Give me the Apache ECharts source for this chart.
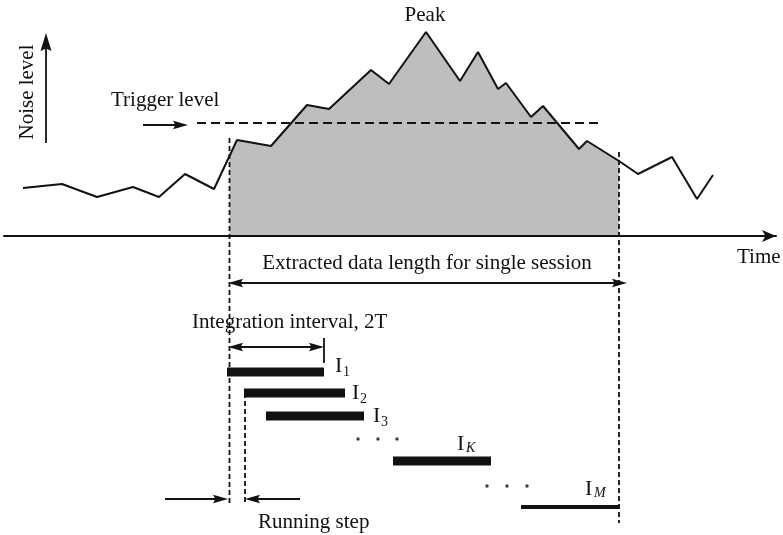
<!DOCTYPE html>
<html>
<head>
<meta charset="utf-8">
<script src="https://cdn.jsdelivr.net/npm/echarts@6/dist/echarts.min.js"></script>
<style>
  html, body { margin: 0; padding: 0; background: #ffffff; }
  #chart { width: 783px; height: 535px; }
</style>
</head>
<body>
<div id="chart"></div>
<script>
// Noise record: time position and level above the time axis
const noiseTime  = [23, 62, 97, 133, 159, 185, 214, 237, 271, 307, 329, 371, 389, 426, 460, 478, 498, 506, 531, 543, 579, 587, 619, 638, 672, 697, 713];
const noiseLevel = [48, 52, 39, 49, 39, 62, 47, 96, 90, 131, 127, 166, 152, 204, 155, 184, 147, 153, 119, 130, 87, 95, 75, 62, 79, 37, 61];

// Trigger threshold and the extracted session window
const triggerLevel = 113;
const triggerSpan = [197, 603];
const sessionStart = 229.5;
const sessionEnd = 619;

// Integration intervals I_1 ... I_M (start, end, row)
const intervalNames = ['1', '2', '3', 'K', 'M'];
const intervalStart = [227, 244, 266, 393, 521];
const intervalEnd   = [324, 345, 364, 491, 620];
const intervalRow   = [-136, -157, -180, -225, -271];

// Ellipsis dots between interval rows
const dotTime  = [358, 378, 397, 487, 507, 527];
const dotLevel = [-203, -203, -203, -250, -250, -250];

// Annotation segments [t1, level1, t2, level2]
const singleArrows = [[46, 93, 46, 203], [143, 111, 188, 111], [165, -263, 228, -263], [300, -263, 245, -263]];
const doubleArrows = [[228, -47, 627, -47], [228, -111, 324, -111]];
const tickMarks    = [[324, -102, 324, -127]];
const guideLines   = [[sessionStart, 98, sessionStart, -269], [sessionEnd, 84, sessionEnd, -287], [245, -157, 245, -269]];

const INK = '#111111';
const SHADE = '#bebebe';
const FONT_FAMILY = '"Liberation Serif", "Times New Roman", serif';

// Points of the noise curve restricted to the session window, with interpolated edges
function levelAt(t) {
  for (let i = 0; i < noiseTime.length - 1; i++) {
    if (t >= noiseTime[i] && t <= noiseTime[i + 1]) {
      const f = (t - noiseTime[i]) / (noiseTime[i + 1] - noiseTime[i]);
      return noiseLevel[i] + f * (noiseLevel[i + 1] - noiseLevel[i]);
    }
  }
  return 0;
}
function sessionPoints() {
  const pts = [[sessionStart, levelAt(sessionStart)]];
  noiseTime.forEach((t, i) => {
    if (t > sessionStart && t < sessionEnd) pts.push([t, noiseLevel[i]]);
  });
  pts.push([sessionEnd, levelAt(sessionEnd)]);
  return pts;
}

// Filled arrowhead with a small notch
function arrowHead(tip, from, L, W) {
  const dx = tip[0] - from[0], dy = tip[1] - from[1];
  const len = Math.hypot(dx, dy) || 1;
  const ux = dx / len, uy = dy / len;
  const N = 2.5;
  const bx = tip[0] - ux * L, by = tip[1] - uy * L;
  return {
    type: 'polygon',
    shape: { points: [
      [tip[0], tip[1]],
      [bx - uy * W, by + ux * W],
      [tip[0] - ux * (L - N), tip[1] - uy * (L - N)],
      [bx + uy * W, by - ux * W]
    ] },
    style: { fill: INK }
  };
}

function segmentSeries(name, data, heads, lineStyle) {
  return {
    name: name,
    type: 'custom',
    data: data,
    encode: { x: [0, 2], y: [1, 3] },
    silent: true,
    z: 6,
    renderItem: function (params, api) {
      const a = api.coord([api.value(0), api.value(1)]);
      const b = api.coord([api.value(2), api.value(3)]);
      const vertical = Math.abs(a[0] - b[0]) < 0.5;
      const L = vertical && heads !== 'none' ? 18 : 15;
      const W = vertical && heads !== 'none' ? 5.5 : 4.2;
      const dx = b[0] - a[0], dy = b[1] - a[1];
      const len = Math.hypot(dx, dy) || 1;
      const ux = dx / len, uy = dy / len;
      let p1 = a.slice(), p2 = b.slice();
      const children = [];
      if (heads === 'end' || heads === 'both') {
        p2 = [b[0] - ux * (L - 3), b[1] - uy * (L - 3)];
        children.push(arrowHead(b, a, L, W));
      }
      if (heads === 'both') {
        p1 = [a[0] + ux * (L - 3), a[1] + uy * (L - 3)];
        children.push(arrowHead(a, b, L, W));
      }
      children.unshift({
        type: 'line',
        shape: { x1: p1[0], y1: p1[1], x2: p2[0], y2: p2[1] },
        style: Object.assign({ stroke: INK, lineWidth: 1.8 }, lineStyle || {})
      });
      return { type: 'group', children: children };
    }
  };
}

// Label placement next to each interval bar
const barLabelLayout = [
  { dx: 11, dy: -6, sub: 6 },
  { dx: 7, dy: 0, sub: 6 },
  { dx: 9, dy: 0, sub: 6 },
  { dx: -34, dy: -17, sub: 4 },
  { dx: -35, dy: -18, sub: 4 }
];

const chart = echarts.init(document.getElementById('chart'), null, { renderer: 'canvas' });

const option = {
  animation: false,
  backgroundColor: '#ffffff',
  grid: { left: 4, right: 7, top: 0, bottom: 0 },
  xAxis: {
    type: 'value',
    min: 4,
    max: 776,
    z: 5,
    axisLine: {
      onZero: true,
      symbol: ['none', 'arrow'],
      symbolSize: [9, 14],
      lineStyle: { color: INK, width: 2 }
    },
    axisTick: { show: false },
    axisLabel: { show: false },
    splitLine: { show: false }
  },
  yAxis: {
    type: 'value',
    min: -299,
    max: 236,
    axisLine: { show: false },
    axisTick: { show: false },
    axisLabel: { show: false },
    splitLine: { show: false }
  },
  series: [
    {
      name: 'session',
      type: 'line',
      data: sessionPoints(),
      symbol: 'none',
      silent: true,
      z: 2,
      lineStyle: { width: 0, opacity: 0 },
      areaStyle: { color: SHADE, opacity: 1, origin: 0 }
    },
    {
      name: 'noise',
      type: 'line',
      data: noiseTime.map((t, i) => [t, noiseLevel[i]]),
      symbol: 'none',
      silent: true,
      z: 4,
      lineStyle: { color: INK, width: 2 }
    },
    segmentSeries('trigger', [[triggerSpan[0], triggerLevel, triggerSpan[1], triggerLevel]], 'none', { lineDash: [9, 5], lineWidth: 1.8 }),
    segmentSeries('guides', guideLines, 'none', { lineDash: [5, 3], lineWidth: 1.8 }),
    segmentSeries('arrows', singleArrows, 'end'),
    segmentSeries('spans', doubleArrows, 'both'),
    segmentSeries('ticks', tickMarks, 'none'),
    {
      name: 'intervals',
      type: 'custom',
      data: intervalStart.map((s, i) => [s, intervalEnd[i], intervalRow[i]]),
      encode: { x: [0, 1], y: 2 },
      silent: true,
      z: 6,
      renderItem: function (params, api) {
        const i = params.dataIndex;
        const s = api.coord([api.value(0), api.value(2)]);
        const e = api.coord([api.value(1), api.value(2)]);
        const h = i === intervalNames.length - 1 ? 4 : 9;
        const lay = barLabelLayout[i];
        const italic = /[A-Z]/.test(intervalNames[i]);
        const lx = e[0] + lay.dx, ly = s[1] + lay.dy;
        return {
          type: 'group',
          children: [
            { type: 'rect', shape: { x: s[0], y: s[1] - h / 2, width: e[0] - s[0], height: h }, style: { fill: INK } },
            { type: 'text', x: lx, y: ly, style: { text: 'I', fill: INK, font: '22px ' + FONT_FAMILY, align: 'left', verticalAlign: 'middle' } },
            { type: 'text', x: lx + (italic ? 9 : 8), y: ly + lay.sub, style: { text: intervalNames[i], fill: INK, font: (italic ? 'italic ' : '') + '14px ' + FONT_FAMILY, align: 'left', verticalAlign: 'middle' } }
          ]
        };
      }
    },
    {
      name: 'ellipsis',
      type: 'scatter',
      data: dotTime.map((t, i) => [t, dotLevel[i]]),
      symbol: 'circle',
      symbolSize: 3.5,
      silent: true,
      z: 6,
      itemStyle: { color: INK }
    }
  ],
  graphic: {
    elements: [
      { type: 'text', x: 27, y: 92, rotation: Math.PI / 2, style: { text: 'Noise level', font: '21px ' + FONT_FAMILY, fill: INK, align: 'center', verticalAlign: 'middle' } },
      { type: 'text', x: 111, y: 100, style: { text: 'Trigger level', font: '21px ' + FONT_FAMILY, fill: INK, align: 'left', verticalAlign: 'middle' } },
      { type: 'text', x: 425, y: 15, style: { text: 'Peak', font: '21px ' + FONT_FAMILY, fill: INK, align: 'center', verticalAlign: 'middle' } },
      { type: 'text', x: 737, y: 257, style: { text: 'Time', font: '21px ' + FONT_FAMILY, fill: INK, align: 'left', verticalAlign: 'middle' } },
      { type: 'text', x: 427, y: 263, style: { text: 'Extracted data length for single session', font: '21px ' + FONT_FAMILY, fill: INK, align: 'center', verticalAlign: 'middle' } },
      { type: 'text', x: 192, y: 322, style: { text: 'Integration interval, 2T', font: '21px ' + FONT_FAMILY, fill: INK, align: 'left', verticalAlign: 'middle' } },
      { type: 'text', x: 258, y: 522, style: { text: 'Running step', font: '21px ' + FONT_FAMILY, fill: INK, align: 'left', verticalAlign: 'middle' } }
    ]
  }
};

chart.setOption(option);
</script>
</body>
</html>
